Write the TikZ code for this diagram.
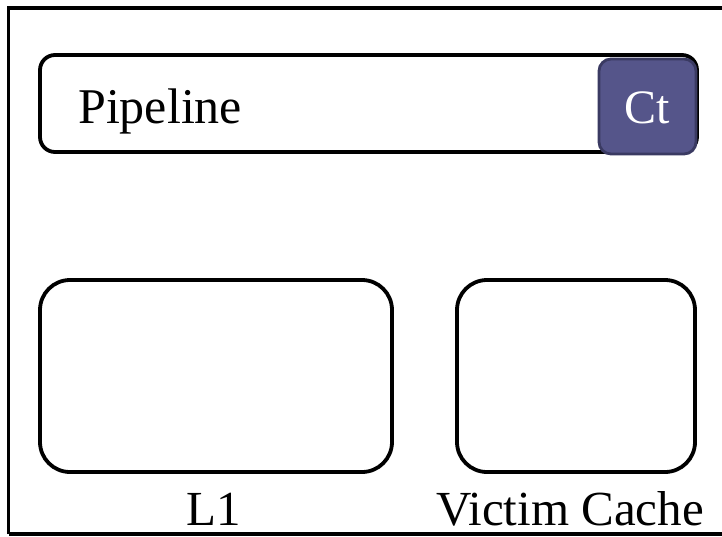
\documentclass[tikz,border=0pt]{standalone}
\usepackage{fontspec}
\setmainfont{Liberation Serif}
\definecolor{ctfill}{RGB}{85,85,138}
\definecolor{ctdraw}{RGB}{58,58,98}
\begin{document}
\begin{tikzpicture}[x=1pt,y=-1pt,
  unit/.style={draw=black,line width=3.8pt,rounded corners=#1,inner sep=0pt},
  ctbox/.style={fill=ctfill,draw=ctdraw,line width=2.8pt,rounded corners=12pt,inner sep=0pt,
    minimum width=97pt,minimum height=95pt},
  lbl/.style={inner sep=0pt,font=\fontsize{49}{49}\selectfont}]
\useasboundingbox (0,0) rectangle (722,536);
% outer frame, running off the right and bottom edges
\draw[line width=3.8pt] (8.5,534) -- (8.5,8) -- (740,8);
\draw[line width=3.8pt] (8.5,534) -- (740,534);
% pipeline bar with its Ct unit
\node[unit=15pt,minimum width=657pt,minimum height=97pt] (pipe) at (368.5,103.5) {};
\node[lbl,anchor=base west,font=\fontsize{50}{50}\selectfont] (pipetext) at (78,123) {Pipeline};
\node[ctbox] (ct) at (647.5,106.5) {};
\node[text=white,inner sep=0pt,font=\fontsize{48}{48}\selectfont,anchor=base] (cttext) at (647.5,123) {Ct};
% caches
\node[unit=30pt,minimum width=352pt,minimum height=192pt] (l1) at (216,376) {};
\node[unit=30pt,minimum width=238pt,minimum height=192pt] (vc) at (576,376) {};
\node[lbl,anchor=base] (l1text) at (214,525) {L1};
\node[lbl,anchor=base] (vctext) at (570,525) {Victim Cache};
\end{tikzpicture}
\end{document}
